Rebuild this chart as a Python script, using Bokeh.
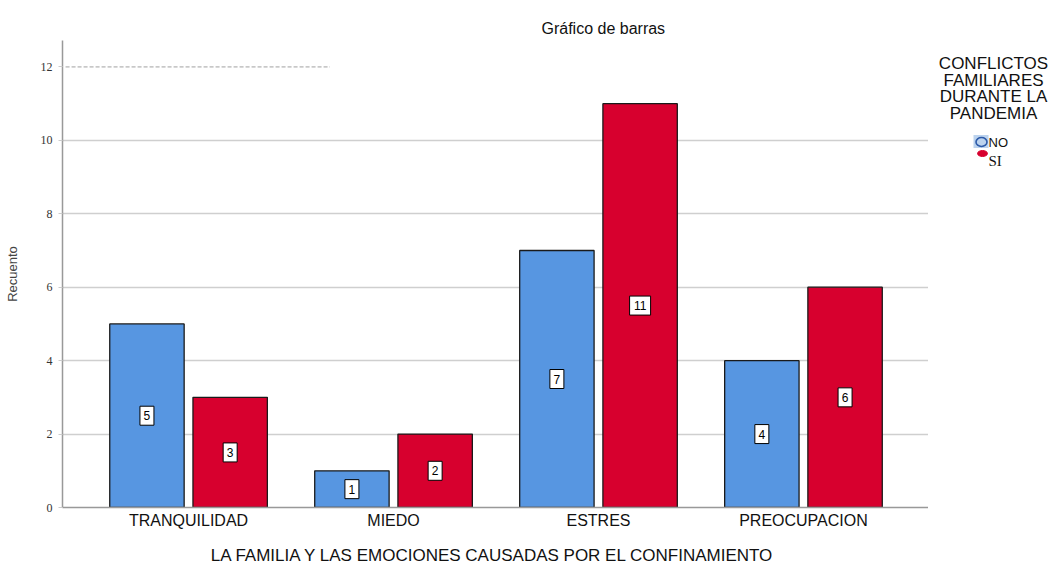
from bokeh.plotting import figure
from bokeh.layouts import row
from bokeh.models import ColumnDataSource, Range1d, FixedTicker
from bokeh.core.properties import value
from bokeh.embed import file_html
from bokeh.resources import INLINE

# Data
categories = ["TRANQUILIDAD", "MIEDO", "ESTRES", "PREOCUPACION"]
no_counts = [5, 1, 7, 4]
si_counts = [3, 2, 11, 6]
series_names = ["NO", "SI"]
legend_title = ["CONFLICTOS", "FAMILIARES", "DURANTE LA", "PANDEMIA"]
y_ticks = [0, 2, 4, 6, 8, 10, 12]

BLUE = "#5796e1"
RED = "#d7002e"
SANS = "Liberation Sans"
SERIF = "Liberation Serif"

x_idx = list(range(len(categories)))
offset = 0.203
bar_w = 0.363


def make_source(xs, counts):
    txt = [str(v) for v in counts]
    return ColumnDataSource(dict(
        x=xs, top=counts, ymid=[v / 2 for v in counts], txt=txt,
        box_w=[7 * len(t) + 7 for t in txt]))


no_src = make_source([i - offset for i in x_idx], no_counts)
si_src = make_source([i + offset for i in x_idx], si_counts)

p = figure(width=928, height=567, output_backend="svg", toolbar_location=None,
           x_range=Range1d(-0.615, 3.61), y_range=Range1d(0, 12.72),
           min_border_left=62, min_border_right=0, min_border_top=40,
           min_border_bottom=60, title="Gráfico  de barras")
p.outline_line_color = None
p.background_fill_color = "white"
p.border_fill_color = "white"

p.title.align = "left"
p.title.offset = 479
p.title.text_font = SANS
p.title.text_font_size = "16px"
p.title.text_font_style = "normal"
p.title.text_color = "#111111"
p.title.standoff = 7

# grid
p.xgrid.grid_line_color = None
p.ygrid.ticker = FixedTicker(ticks=[2, 4, 6, 8, 10])
p.ygrid.grid_line_color = "#cfcfcf"
p.ygrid.grid_line_width = 1.5

# dashed reference at the top tick
p.segment(x0=[-0.6], y0=[12], x1=[0.69], y1=[12], line_color="#a0a0a0",
          line_width=1, line_dash="4 2")

# bars
p.vbar(x="x", top="top", width=bar_w, source=no_src, fill_color=BLUE,
       line_color="#1a1a1a", line_width=1.3)
p.vbar(x="x", top="top", width=bar_w, source=si_src, fill_color=RED,
       line_color="#1a1a1a", line_width=1.3)

# value labels in white boxes
for src in (no_src, si_src):
    p.rect(x="x", y="ymid", width="box_w", height=19, width_units="screen",
           height_units="screen", source=src, fill_color="white",
           line_color="black", line_width=1)
    p.text(x="x", y="ymid", text="txt", source=src, text_align="center",
           text_baseline="middle", text_font=value(SANS), text_font_size="12px",
           text_color="black")

# axes
p.xaxis.ticker = FixedTicker(ticks=x_idx)
p.xaxis.major_label_overrides = {i: c for i, c in zip(x_idx, categories)}
p.xaxis.major_tick_line_color = None
p.xaxis.major_tick_in = 0
p.xaxis.major_tick_out = 0
p.xaxis.minor_tick_line_color = None
p.xaxis.axis_line_color = "#999999"
p.xaxis.axis_line_width = 1.5
p.xaxis.major_label_text_font = SANS
p.xaxis.major_label_text_font_size = "16px"
p.xaxis.major_label_text_color = "#111111"
p.xaxis.major_label_standoff = 4
p.xaxis.axis_label = "LA FAMILIA Y LAS EMOCIONES  CAUSADAS POR EL CONFINAMIENTO"
p.xaxis.axis_label_text_font = SANS
p.xaxis.axis_label_text_font_size = "17px"
p.xaxis.axis_label_text_font_style = "normal"
p.xaxis.axis_label_text_color = "#111111"
p.xaxis.axis_label_standoff = 14

p.yaxis.ticker = FixedTicker(ticks=y_ticks)
p.yaxis.major_tick_line_color = "#cccccc"
p.yaxis.major_tick_in = 0
p.yaxis.major_tick_out = 4
p.yaxis.minor_tick_line_color = None
p.yaxis.axis_line_color = "#999999"
p.yaxis.axis_line_width = 1.5
p.yaxis.major_label_text_font = SERIF
p.yaxis.major_label_text_font_size = "12px"
p.yaxis.major_label_text_color = "#333333"
p.yaxis.major_label_standoff = 6
p.yaxis.axis_label = "Recuento"
p.yaxis.axis_label_text_font = SANS
p.yaxis.axis_label_text_font_size = "13px"
p.yaxis.axis_label_text_font_style = "normal"
p.yaxis.axis_label_standoff = 18

# legend panel beside the chart; its frame lines up with the chart frame,
# so the ranges are set to read as page pixels (y grows downward)
lg = figure(width=124, height=567, output_backend="svg", toolbar_location=None,
            x_range=Range1d(928, 1052), y_range=Range1d(507, 40),
            min_border_left=0, min_border_right=0, min_border_top=40,
            min_border_bottom=60, outline_line_color=None)
lg.axis.visible = False
lg.grid.visible = False
lg.background_fill_color = "white"
lg.border_fill_color = "white"

lg.text(x=[993] * len(legend_title), y=[63 + k * 16.6 for k in range(len(legend_title))],
        text=legend_title, text_align="center", text_baseline="middle",
        text_font=value(SANS), text_font_size="17px", text_color="#111111")

lg.rect(x=[980.5], y=[141], width=15, height=13, fill_color="#bcd3ee",
        line_color=None)
lg.ellipse(x=[981], y=[141.5], width=11, height=9, fill_color=None,
           line_color="#2d5aa8", line_width=1.6)
lg.ellipse(x=[982], y=[153], width=10, height=6, fill_color=RED,
           line_color=RED)
lg.text(x=[988], y=[142], text=[series_names[0]], text_align="left",
        text_baseline="middle", text_font=value(SANS), text_font_size="13px",
        text_color="#111111")
lg.text(x=[988], y=[160], text=[series_names[1]], text_align="left",
        text_baseline="middle", text_font=value(SERIF), text_font_size="15px",
        text_color="#111111")

layout = row(p, lg, spacing=0)
open("out.html", "w").write(file_html(layout, INLINE))
